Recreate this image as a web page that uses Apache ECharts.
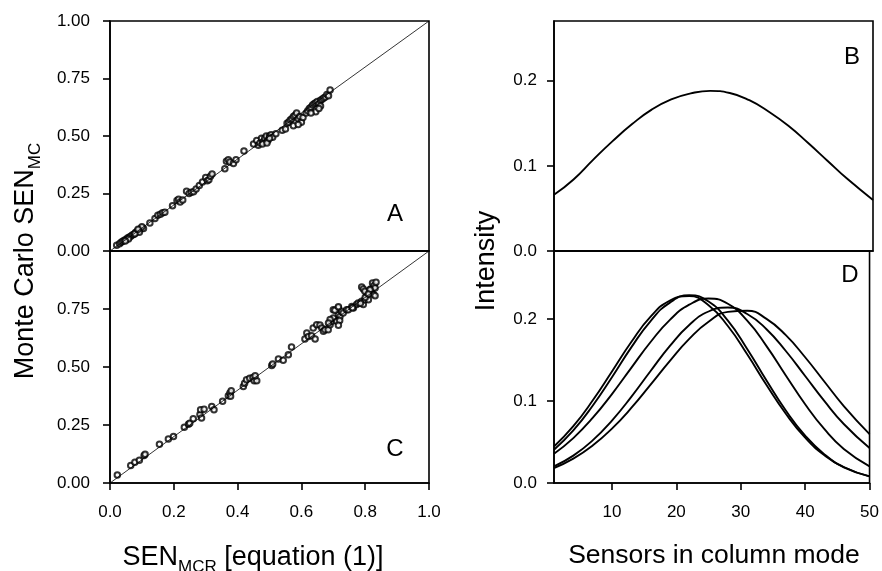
<!DOCTYPE html>
<html><head><meta charset="utf-8">
<script src="https://cdn.jsdelivr.net/npm/echarts@6/dist/echarts.min.js"></script>
<style>html,body{margin:0;padding:0;background:#fff}#c{width:882px;height:571px}</style>
</head><body><div id="c"></div>
<script>
// Panel A: SEN_MCR (x) vs Monte Carlo SEN_MC (y)
const senA = [[0.021,0.025],[0.03,0.032],[0.035,0.038],[0.04,0.042],[0.045,0.047],[0.05,0.05],[0.055,0.056],[0.06,0.06],[0.065,0.064],[0.07,0.07],[0.075,0.073],[0.08,0.08],[0.085,0.086],[0.09,0.09],[0.095,0.096],[0.1,0.1],[0.105,0.098],[0.092,0.082],[0.078,0.075],[0.058,0.052],[0.048,0.044],[0.1,0.105],[0.088,0.095],
[0.125,0.122],[0.141,0.141],[0.15,0.155],[0.158,0.16],[0.165,0.166],[0.172,0.168],[0.196,0.197],[0.21,0.22],[0.215,0.225],[0.22,0.213],[0.228,0.222],[0.24,0.26],[0.248,0.25],[0.255,0.255],[0.262,0.258],[0.27,0.27],[0.28,0.285],[0.29,0.3],[0.3,0.32],[0.305,0.305],[0.31,0.31],[0.315,0.325],[0.32,0.335],[0.36,0.358],[0.365,0.39],[0.371,0.397],[0.376,0.387],[0.387,0.38],[0.395,0.397],[0.42,0.435],
[0.45,0.465],[0.46,0.48],[0.465,0.46],[0.47,0.47],[0.475,0.49],[0.48,0.475],[0.485,0.49],[0.49,0.5],[0.495,0.48],[0.5,0.5],[0.505,0.505],[0.51,0.495],[0.52,0.51],[0.478,0.465],[0.492,0.47],[0.5,0.49],
[0.54,0.525],[0.55,0.53],[0.555,0.555],[0.56,0.56],[0.565,0.57],[0.57,0.575],[0.575,0.585],[0.58,0.59],[0.585,0.6],[0.59,0.575],[0.595,0.585],[0.6,0.56],[0.575,0.545],[0.59,0.55],[0.605,0.58],
[0.615,0.6],[0.62,0.61],[0.625,0.62],[0.63,0.625],[0.635,0.635],[0.64,0.64],[0.645,0.645],[0.65,0.65],[0.655,0.64],[0.66,0.655],[0.665,0.66],[0.67,0.665],[0.675,0.67],[0.68,0.68],[0.69,0.7],[0.66,0.63],[0.645,0.605],[0.63,0.6],[0.685,0.675],[0.655,0.62]];

// Panel C
const senC = [[0.023,0.034],[0.065,0.075],[0.078,0.089],[0.092,0.098],[0.107,0.118],[0.11,0.124],[0.155,0.167],[0.183,0.19],[0.199,0.2],[0.233,0.24],[0.246,0.253],[0.25,0.258],[0.261,0.277],[0.282,0.295],[0.284,0.316],[0.287,0.28],[0.295,0.318],[0.319,0.33],[0.326,0.316],[0.353,0.352],[0.371,0.376],[0.376,0.388],[0.378,0.374],[0.38,0.398],
[0.418,0.416],[0.422,0.43],[0.428,0.445],[0.438,0.452],[0.448,0.455],[0.452,0.441],[0.46,0.441],[0.455,0.462],
[0.507,0.507],[0.51,0.513],[0.528,0.534],[0.543,0.529],[0.559,0.553],[0.569,0.586],
[0.611,0.621],[0.617,0.647],[0.622,0.632],[0.632,0.635],[0.643,0.621],[0.637,0.668],[0.648,0.682],[0.658,0.681],[0.664,0.668],[0.669,0.654],[0.674,0.661],[0.684,0.661],[0.69,0.682],[0.695,0.697],[0.70,0.711],[0.711,0.697],[0.716,0.726],[0.721,0.718],[0.716,0.754],[0.726,0.74],[0.731,0.733],[0.742,0.747],[0.747,0.747],[0.758,0.761],[0.763,0.754],[0.773,0.769],[0.778,0.776],[0.789,0.783],[0.794,0.769],[0.799,0.79],[0.805,0.812],[0.81,0.79],[0.813,0.822],[0.817,0.836],[0.82,0.826],[0.823,0.862],[0.828,0.851],[0.831,0.841],[0.834,0.865],[0.789,0.845],[0.794,0.836],[0.799,0.826],[0.815,0.833],[0.826,0.812],[0.831,0.807],[0.70,0.747],[0.705,0.745],[0.716,0.76],[0.72,0.70],[0.716,0.68],[0.69,0.705],[0.685,0.69],[0.8,0.8],[0.81,0.815],[0.785,0.775],[0.76,0.755]];

const diagonal = [[0,0],[1,1]];

// Panels B and D: intensity profiles
const sensors = [1,4,7,10,13,16,19,22,25,28,31,34,37,40,43,46,50];
const intensityB  = [0.066,0.084,0.107,0.129,0.149,0.166,0.178,0.185,0.188,0.1855,0.177,0.1635,0.147,0.127,0.106,0.085,0.060];
const intensityD1 = [0.0445,0.0693,0.1006,0.136,0.172,0.203,0.2225,0.228,0.2168,0.1915,0.157,0.1195,0.0845,0.0554,0.0338,0.0191,0.008];
const intensityD2 = [0.0406,0.0641,0.0942,0.129,0.1654,0.1976,0.220,0.229,0.2213,0.198,0.1635,0.125,0.0884,0.0578,0.0349,0.0195,0.008];
const intensityD3 = [0.0357,0.0548,0.0793,0.1085,0.1405,0.172,0.199,0.2175,0.225,0.2186,0.198,0.167,0.1312,0.0961,0.0656,0.0416,0.0203];
const intensityD4 = [0.0203,0.0334,0.052,0.0762,0.1051,0.1366,0.1672,0.1928,0.2092,0.214,0.2062,0.1876,0.161,0.1305,0.0998,0.072,0.0426];
const intensityD5 = [0.0183,0.0297,0.0456,0.0663,0.0915,0.120,0.149,0.1758,0.1967,0.2088,0.2102,0.2002,0.1803,0.1534,0.1235,0.0939,0.0596];

// Tick labels
const ticksAY = [0,0.25,0.5,0.75,1];
const ticksCY = [0,0.25,0.5,0.75];
const ticksCX = [0,0.2,0.4,0.6,0.8,1];
const ticksRY = [0,0.1,0.2];
const ticksDX = [10,20,30,40,50];

const FONT = 'Arial, "Liberation Sans", Helvetica, sans-serif';
const chart = echarts.init(document.getElementById('c'), null, {renderer:'canvas'});

function gridDef(left, top, w, h){
  return {left:left, top:top, width:w, height:h, show:true, borderColor:'#000', borderWidth:1.6, backgroundColor:'transparent'};
}
function axis(o){
  const base = {
    type:'value', splitLine:{show:false},
    axisLine:{show:true, onZero:false, lineStyle:{color:'#000', width:1.6}},
    axisTick:{show:true, length:7, lineStyle:{color:'#000', width:1.6}},
    axisLabel:{color:'#000', fontSize:17, fontFamily:FONT}
  };
  const r = Object.assign({}, base, o);
  if (o.axisTick) r.axisTick = Object.assign({}, base.axisTick, o.axisTick);
  if (o.axisLabel) r.axisLabel = Object.assign({}, base.axisLabel, o.axisLabel);
  return r;
}
const zip = (xs, ys) => xs.map((x,i)=>[x, ys[i]]);
const curve = (data, xi, yi) => ({type:'line', xAxisIndex:xi, yAxisIndex:yi, data:data, smooth:0.5, showSymbol:false, symbol:'none', silent:true, lineStyle:{color:'#000', width:1.9}});
const diag = (xi, yi) => ({type:'line', xAxisIndex:xi, yAxisIndex:yi, data:diagonal, showSymbol:false, symbol:'none', silent:true, lineStyle:{color:'#000', width:0.8}});
const scat = (data, xi, yi) => ({type:'scatter', xAxisIndex:xi, yAxisIndex:yi, data:data, symbol:'emptyCircle', symbolSize:5.5, silent:true, itemStyle:{color:'#000', borderColor:'#000', borderWidth:1.7}});

const option = {
  animation:false,
  backgroundColor:'#fff',
  grid:[gridDef(110,21,319,230), gridDef(110,251,319,232), gridDef(554,21,319,230), gridDef(554,251,319,232)],
  xAxis:[
    axis({gridIndex:0, min:0, max:1, axisLabel:{show:false}, axisTick:{show:false}}),
    axis({gridIndex:1, min:0, max:1, axisTick:{customValues:ticksCX}, axisLabel:{customValues:ticksCX, margin:21, formatter:v=>v.toFixed(1)}}),
    axis({gridIndex:2, min:1, max:50, axisLabel:{show:false}, axisTick:{show:false}}),
    axis({gridIndex:3, min:1, max:50, axisTick:{customValues:ticksDX}, axisLabel:{customValues:ticksDX, margin:21, formatter:v=>String(v)}})
  ],
  yAxis:[
    axis({gridIndex:0, min:0, max:1, axisTick:{customValues:ticksAY}, axisLabel:{customValues:ticksAY, margin:20, formatter:v=>v.toFixed(2)}}),
    axis({gridIndex:1, min:0, max:1, axisTick:{customValues:ticksCY}, axisLabel:{customValues:ticksCY, margin:20, formatter:v=>v.toFixed(2)}}),
    axis({gridIndex:2, min:0, max:0.27, axisTick:{customValues:ticksRY}, axisLabel:{customValues:ticksRY, margin:17, formatter:v=>v.toFixed(1)}}),
    axis({gridIndex:3, min:0, max:0.283, axisTick:{customValues:ticksRY}, axisLabel:{customValues:ticksRY, margin:17, formatter:v=>v.toFixed(1)}})
  ],
  series:[
    diag(0,0), scat(senA,0,0),
    diag(1,1), scat(senC,1,1),
    curve(zip(sensors,intensityB),2,2),
    curve(zip(sensors,intensityD1),3,3),
    curve(zip(sensors,intensityD2),3,3),
    curve(zip(sensors,intensityD3),3,3),
    curve(zip(sensors,intensityD4),3,3),
    curve(zip(sensors,intensityD5),3,3)
  ],
  graphic:[
    {type:'text', x:395, y:214, style:{text:'A', font:'24px '+FONT, fill:'#000', align:'center', verticalAlign:'middle'}},
    {type:'text', x:395, y:449, style:{text:'C', font:'24px '+FONT, fill:'#000', align:'center', verticalAlign:'middle'}},
    {type:'text', x:852, y:57, style:{text:'B', font:'24px '+FONT, fill:'#000', align:'center', verticalAlign:'middle'}},
    {type:'text', x:850, y:275, style:{text:'D', font:'24px '+FONT, fill:'#000', align:'center', verticalAlign:'middle'}},
    {type:'text', x:26, y:261, rotation:Math.PI/2, style:{
      text:'{b|Monte Carlo SEN}{s|MC}', align:'center', verticalAlign:'middle', fill:'#000',
      rich:{b:{fontSize:27, fontFamily:FONT, lineHeight:36, verticalAlign:'middle', fill:'#000'}, s:{fontSize:17, fontFamily:FONT, lineHeight:17, verticalAlign:'bottom', fill:'#000'}}}},
    {type:'text', x:253, y:558, style:{
      text:'{b|SEN}{s|MCR}{b| [equation (1)]}', align:'center', verticalAlign:'middle', fill:'#000',
      rich:{b:{fontSize:27, fontFamily:FONT, lineHeight:36, verticalAlign:'middle', fill:'#000'}, s:{fontSize:17, fontFamily:FONT, lineHeight:17, verticalAlign:'bottom', fill:'#000'}}}},
    {type:'text', x:487, y:261, rotation:Math.PI/2, style:{text:'Intensity', font:'27px '+FONT, fill:'#000', align:'center', verticalAlign:'middle'}},
    {type:'text', x:714, y:556, style:{text:'Sensors in column mode', font:'26.5px '+FONT, fill:'#000', align:'center', verticalAlign:'middle'}}
  ]
};
chart.setOption(option);
</script>
</body></html>
